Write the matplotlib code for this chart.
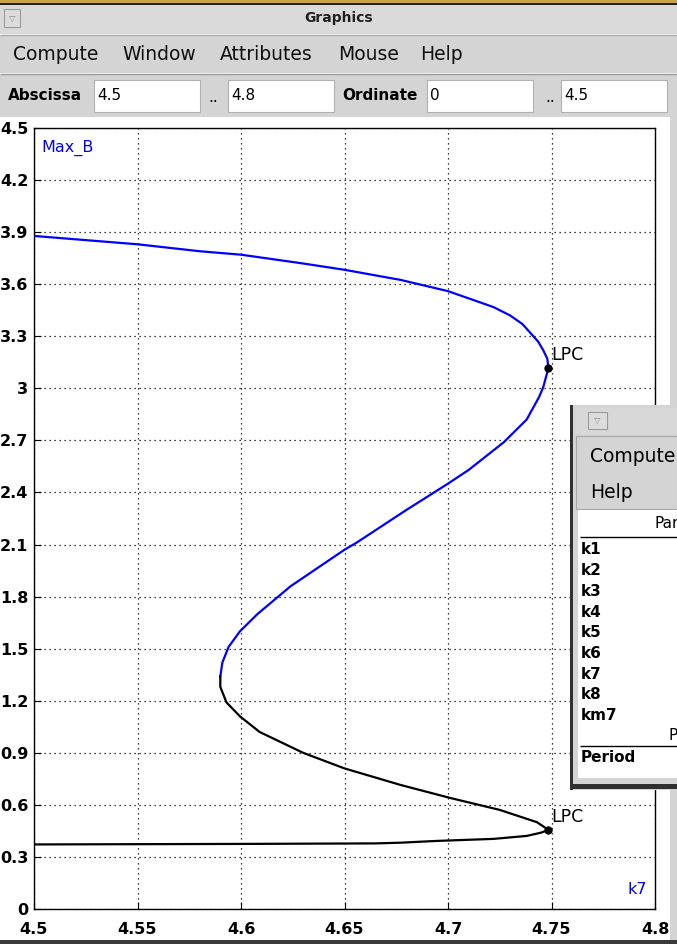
import numpy as np
import matplotlib
matplotlib.use('Agg')
import matplotlib.pyplot as plt
from matplotlib.patches import Rectangle

# continuation curve (k7 vs Max_B)
k7_blue = [4.500, 4.550, 4.580, 4.600, 4.6285, 4.650, 4.677, 4.700, 4.712, 4.722,
           4.730, 4.736, 4.7435, 4.746, 4.748, 4.7485, 4.746, 4.744, 4.738, 4.727,
           4.710, 4.6995, 4.680, 4.656, 4.650, 4.624, 4.608, 4.5995, 4.594, 4.591,
           4.590]
maxb_blue = [3.878, 3.830, 3.790, 3.770, 3.722, 3.683, 3.625, 3.560, 3.510, 3.468,
             3.420, 3.370, 3.270, 3.220, 3.170, 3.116, 3.006, 2.950, 2.820, 2.690,
             2.530, 2.447, 2.300, 2.112, 2.070, 1.860, 1.700, 1.600, 1.510, 1.420,
             1.340]
k7_black = [4.590, 4.590, 4.593, 4.5995, 4.609, 4.630, 4.650, 4.677, 4.701, 4.725,
            4.743, 4.7485, 4.745, 4.738, 4.722, 4.694, 4.677, 4.665, 4.600, 4.500]
maxb_black = [1.340, 1.280, 1.190, 1.110, 1.020, 0.900, 0.810, 0.715, 0.640, 0.571,
              0.500, 0.456, 0.440, 0.421, 0.404, 0.392, 0.382, 0.378, 0.375, 0.372]
lpc_k7 = [4.7485, 4.7485]
lpc_maxb = [3.116, 0.456]

x_ticks = [4.5, 4.55, 4.6, 4.65, 4.7, 4.75, 4.8]
x_labels = ['4.5', '4.55', '4.6', '4.65', '4.7', '4.75', '4.8']
y_ticks = [0, 0.3, 0.6, 0.9, 1.2, 1.5, 1.8, 2.1, 2.4, 2.7, 3, 3.3, 3.6, 3.9, 4.2, 4.5]
y_labels = ['0', '0.3', '0.6', '0.9', '1.2', '1.5', '1.8', '2.1', '2.4', '2.7', '3',
            '3.3', '3.6', '3.9', '4.2', '4.5']
menu_items = ['Compute', 'Window', 'Attributes', 'Mouse', 'Help']
param_names = ['k1', 'k2', 'k3', 'k4', 'k5', 'k6', 'k7', 'k8', 'km7']

W, H = 677, 944
GRAY = '#d4d4d4'
fig = plt.figure(figsize=(W / 100, H / 100), dpi=100, facecolor='white')

# main plot axes, placed in pixel units
L, R, T, B = 34, 655, 128, 909
ax = fig.add_axes([L / W, (H - B) / H, (R - L) / W, (B - T) / H], zorder=1)
ax.plot(k7_blue, maxb_blue, color='#0000ff', lw=1.6, zorder=3)
ax.plot(k7_black, maxb_black, color='black', lw=1.6, zorder=3)
ax.plot(lpc_k7, lpc_maxb, 'o', color='black', ms=5, zorder=4)
for xx, yy in zip(lpc_k7, lpc_maxb):
    ax.annotate('LPC', (xx, yy), xytext=(2, 3), textcoords='offset points',
                fontsize=12.5, family='DejaVu Sans', va='bottom', ha='left')
ax.set_xlim(4.5, 4.8)
ax.set_ylim(0, 4.5)
ax.set_xticks(x_ticks)
ax.set_xticklabels(x_labels)
ax.set_yticks(y_ticks)
ax.set_yticklabels(y_labels)
ax.grid(True, color='black', linestyle=(0, (1, 3)), lw=0.9)
ax.tick_params(direction='in', length=5, width=0.8, labelsize=11.5)
ax.tick_params(axis='x', pad=9)
ax.tick_params(axis='y', pad=4)
for lab in ax.get_xticklabels() + ax.get_yticklabels():
    lab.set_fontweight('bold')
for sp in ax.spines.values():
    sp.set_linewidth(1.0)
ax.text(0.012, 0.985, 'Max_B', transform=ax.transAxes, color='#0000ff',
        fontsize=11.5, va='top', ha='left')
ax.text(0.955, 0.015, 'k7', transform=ax.transAxes, color='#0000ff',
        fontsize=11.5, va='bottom', ha='left')

# window chrome overlay in pixel coordinates
ui = fig.add_axes([0, 0, 1, 1], zorder=5)
ui.set_xlim(0, W)
ui.set_ylim(H, 0)
ui.axis('off')
ui.patch.set_alpha(0)


def box(x0, y0, x1, y1, fc, ec='none', lw=0, z=1):
    ui.add_patch(Rectangle((x0, y0), x1 - x0, y1 - y0, facecolor=fc,
                           edgecolor=ec, linewidth=lw, zorder=z))


def hline(y, x0, x1, c, lw=1, z=2):
    ui.plot([x0, x1], [y, y], color=c, lw=lw, zorder=z, solid_capstyle='butt')


box(0, 0, W, 3, '#c8a446')
box(0, 3, W, 5, '#202020')
box(0, 5, W, 34, '#dadada')
box(4, 9, 20, 27, '#dcdcdc', ec='#9a9a9a', lw=0.8, z=2)
ui.text(12, 18, '▽', fontsize=6, ha='center', va='center', color='#888888', zorder=3)
ui.text(W / 2, 18, 'Graphics', fontsize=10, fontweight='bold', ha='center',
        va='center', color='#202020')
hline(34.5, 0, W, '#a8a8a8')
box(0, 35, W, 73, GRAY)
hline(73.5, 0, W, '#9a9a9a')
menu_x = [13, 122, 220, 338, 420]
for mx, name in zip(menu_x, menu_items):
    ui.text(mx, 55, name, fontsize=13.5, ha='left', va='center', color='#101010')
box(0, 74, W, 117, GRAY)
ui.text(8, 96, 'Abscissa', fontsize=11, fontweight='bold', ha='left', va='center')
ui.text(342, 96, 'Ordinate', fontsize=11, fontweight='bold', ha='left', va='center')
ui.text(208, 98, '..', fontsize=11, ha='left', va='center')
ui.text(545, 98, '..', fontsize=11, ha='left', va='center')
entries = [(94, 200, '4.5'), (228, 334, '4.8'), (427, 533, '0'), (561, 667, '4.5')]
for x0, x1, val in entries:
    box(x0, 80, x1, 112, 'white', ec='#b0b0b0', lw=0.8, z=2)
    ui.text(x0 + 3, 96, val, fontsize=11, ha='left', va='center', zorder=3)
# right gray strip and bottom edge
box(670, 117, W, H, GRAY)
box(0, 940, W, H, '#3a3a3a')

# second window partly covering the plot
box(570, 405, W, 790, GRAY, z=6)
box(570, 405, 573, 790, '#303030', z=7)
box(570, 784, W, 789, '#303030', z=7)
box(576, 408, W, 434, '#d8d8d8', z=7)
box(588, 412, 607, 429, '#dcdcdc', ec='#9a9a9a', lw=0.8, z=8)
ui.text(597.5, 420, '▽', fontsize=6, ha='center', va='center', color='#888888', zorder=9)
box(576, 436, W, 509, GRAY, ec='#a8a8a8', lw=0.8, z=7)
ui.text(590, 456, 'Compute', fontsize=13.5, ha='left', va='center', zorder=8)
ui.text(590, 492, 'Help', fontsize=13.5, ha='left', va='center', zorder=8)
box(578, 510, W, 778, 'white', z=7)
ui.text(654, 524, 'Par', fontsize=11, ha='left', va='center', zorder=8)
hline(536.5, 580, W, 'black', z=8)
for i, name in enumerate(param_names):
    ui.text(581, 550 + i * 20.7, name, fontsize=11, fontweight='bold',
            ha='left', va='center', zorder=8)
ui.text(669, 735, 'P', fontsize=11, ha='left', va='center', zorder=8)
hline(745.5, 580, W, 'black', z=8)
ui.text(581, 758, 'Period', fontsize=11, fontweight='bold', ha='left',
        va='center', zorder=8)

fig.savefig('out.png', dpi=100, facecolor='white')
